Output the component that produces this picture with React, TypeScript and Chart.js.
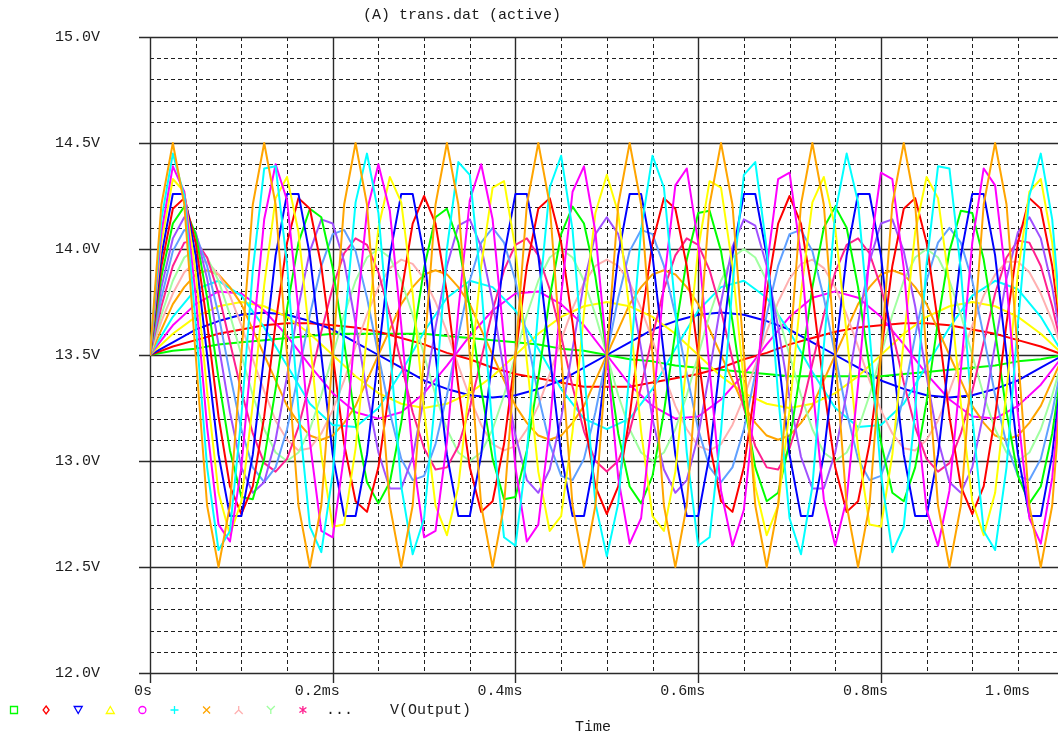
import React, { useEffect, useRef } from 'react';
import { Chart, registerables } from 'chart.js';

Chart.register(...registerables);

// ---- time grid (ms) ----
const tFine = [0,0.0125,0.025,0.0375,0.05,0.0625,0.075,0.0875,0.1,0.1125,0.125,0.1375,0.15,0.1625,0.175,0.1875,0.2,0.2125,0.225,0.2375,0.25,0.2625,0.275,0.2875,0.3,0.3125,0.325,0.3375,0.35,0.3625,0.375,0.3875,0.4,0.4125,0.425,0.4375,0.45,0.4625,0.475,0.4875,0.5,0.5125,0.525,0.5375,0.55,0.5625,0.575,0.5875,0.6,0.6125,0.625,0.6375,0.65,0.6625,0.675,0.6875,0.7,0.7125,0.725,0.7375,0.75,0.7625,0.775,0.7875,0.8,0.8125,0.825,0.8375,0.85,0.8625,0.875,0.8875,0.9,0.9125,0.925,0.9375,0.95,0.9625,0.975,0.9875,1.0];
const tCoarse = tFine.filter((_, i) => i % 2 === 0);

// ---- V(Output) traces (V) ----
const trace01 = [13.5,13.52,13.53,13.55,13.56,13.57,13.58,13.59,13.6,13.6,13.6,13.6,13.6,13.59,13.58,13.57,13.56,13.55,13.53,13.52,13.5,13.48,13.47,13.45,13.44,13.43,13.42,13.41,13.4,13.4,13.4,13.4,13.4,13.41,13.42,13.43,13.44,13.45,13.47,13.48,13.5];
const trace02 = [13.5,13.54,13.57,13.6,13.62,13.64,13.65,13.65,13.64,13.63,13.61,13.58,13.55,13.51,13.48,13.44,13.41,13.39,13.37,13.35,13.35,13.35,13.37,13.39,13.41,13.44,13.48,13.51,13.55,13.58,13.61,13.63,13.64,13.65,13.65,13.64,13.62,13.6,13.57,13.54,13.5];
const trace03 = [13.5,13.56,13.62,13.66,13.69,13.7,13.69,13.66,13.62,13.56,13.5,13.44,13.38,13.34,13.31,13.3,13.31,13.34,13.38,13.44,13.5,13.56,13.62,13.66,13.69,13.7,13.69,13.66,13.62,13.56,13.5,13.44,13.38,13.34,13.31,13.3,13.31,13.34,13.38,13.44,13.5];
const trace04 = [13.5,13.6,13.68,13.73,13.75,13.73,13.68,13.6,13.5,13.4,13.32,13.27,13.25,13.27,13.32,13.4,13.5,13.6,13.68,13.73,13.75,13.73,13.68,13.6,13.5,13.4,13.32,13.27,13.25,13.27,13.32,13.4,13.5,13.6,13.68,13.73,13.75,13.73,13.68,13.6,13.5];
const trace05 = [13.5,13.64,13.74,13.8,13.79,13.71,13.59,13.45,13.32,13.23,13.2,13.23,13.32,13.45,13.59,13.71,13.79,13.8,13.74,13.64,13.5,13.36,13.26,13.2,13.21,13.29,13.41,13.55,13.68,13.77,13.8,13.77,13.68,13.55,13.41,13.29,13.21,13.2,13.26,13.36,13.5];
const trace06 = [13.5,13.68,13.81,13.85,13.78,13.63,13.45,13.27,13.17,13.16,13.25,13.42,13.61,13.77,13.85,13.82,13.71,13.53,13.34,13.2,13.15,13.2,13.34,13.53,13.71,13.82,13.85,13.77,13.61,13.42,13.25,13.16,13.17,13.27,13.45,13.63,13.78,13.85,13.81,13.68,13.5];
const trace07 = [13.5,13.62,13.74,13.82,13.88,13.9,13.88,13.82,13.74,13.62,13.5,13.38,13.26,13.18,13.12,13.1,13.12,13.18,13.26,13.38,
  13.5,13.62,13.74,13.82,13.88,13.9,13.88,13.82,13.74,13.62,13.5,13.38,13.26,13.18,13.12,13.1,13.12,13.18,13.26,13.38,
  13.5,13.62,13.74,13.82,13.88,13.9,13.88,13.82,13.74,13.62,13.5,13.38,13.26,13.18,13.12,13.1,13.12,13.18,13.26,13.38,
  13.5,13.62,13.74,13.82,13.88,13.9,13.88,13.82,13.74,13.62,13.5,13.38,13.26,13.18,13.12,13.1,13.12,13.18,13.26,13.38,13.5];
const trace08 = [13.5,13.66,13.79,13.89,13.94,13.94,13.88,13.78,13.64,13.48,13.33,13.19,13.1,13.05,13.06,13.13,13.24,13.38,13.54,13.69,13.82,13.91,13.95,13.93,13.86,13.75,13.61,13.45,13.3,13.17,13.08,13.05,13.07,13.15,13.26,13.41,13.57,13.72,13.84,13.92,13.95,
  13.92,13.84,13.72,13.57,13.41,13.26,13.15,13.07,13.05,13.08,13.17,13.3,13.45,13.61,13.75,13.86,13.93,13.95,13.91,13.82,13.69,13.54,13.38,13.24,13.13,13.06,13.05,13.1,13.19,13.33,13.48,13.64,13.78,13.88,13.94,13.94,13.89,13.79,13.66,13.5];
const trace09 = [13.5,13.69,13.85,13.96,14,13.96,13.85,13.69,13.5,13.31,13.15,13.04,13,13.04,13.15,13.31,
  13.5,13.69,13.85,13.96,14,13.96,13.85,13.69,13.5,13.31,13.15,13.04,13,13.04,13.15,13.31,
  13.5,13.69,13.85,13.96,14,13.96,13.85,13.69,13.5,13.31,13.15,13.04,13,13.04,13.15,13.31,
  13.5,13.69,13.85,13.96,14,13.96,13.85,13.69,13.5,13.31,13.15,13.04,13,13.04,13.15,13.31,
  13.5,13.69,13.85,13.96,14,13.96,13.85,13.69,13.5,13.31,13.15,13.04,13,13.04,13.15,13.31,13.5];
const trace10 = [13.5,13.73,13.92,14.03,14.04,13.96,13.79,13.56,13.33,13.13,12.99,12.95,13.01,13.16,13.37,13.61,13.82,13.98,14.05,14.02,13.89,13.69,13.46,13.23,13.06,12.96,12.97,13.07,13.25,13.48,13.71,13.9,14.02,14.05,13.97,13.81,13.59,13.35,13.14,13,12.95,
  13,13.14,13.35,13.59,13.81,13.97,14.05,14.02,13.9,13.71,13.48,13.25,13.07,12.97,12.96,13.06,13.23,13.46,13.69,13.89,14.02,14.05,13.98,13.82,13.61,13.37,13.16,13.01,12.95,12.99,13.13,13.33,13.56,13.79,13.96,14.04,14.03,13.92,13.73,13.5];
const trace11 = [13.5,13.77,13.99,14.09,14.07,13.92,13.69,13.41,13.15,12.97,12.9,12.97,13.15,13.41,13.69,13.92,14.07,14.09,13.99,13.77,13.5,13.23,13.01,12.91,12.93,13.08,13.31,13.59,13.85,14.03,14.1,14.03,13.85,13.59,13.31,13.08,12.93,12.91,13.01,13.23,13.5,
  13.77,13.99,14.09,14.07,13.92,13.69,13.41,13.15,12.97,12.9,12.97,13.15,13.41,13.69,13.92,14.07,14.09,13.99,13.77,13.5,13.23,13.01,12.91,12.93,13.08,13.31,13.59,13.85,14.03,14.1,14.03,13.85,13.59,13.31,13.08,12.93,12.91,13.01,13.23,13.5];
const trace12 = [13.5,13.82,14.05,14.15,14.08,13.86,13.55,13.23,12.97,12.85,12.9,13.1,13.4,13.73,13.99,14.14,14.12,13.94,13.65,13.32,13.04,12.87,12.87,13.02,13.3,13.63,13.92,14.11,14.14,14.01,13.75,13.42,13.12,12.91,12.85,12.96,13.2,13.53,13.84,14.07,14.15,
  14.07,13.84,13.53,13.2,12.96,12.85,12.91,13.12,13.42,13.75,14.01,14.14,14.11,13.92,13.63,13.3,13.02,12.87,12.87,13.04,13.32,13.65,13.94,14.12,14.14,13.99,13.73,13.4,13.1,12.9,12.85,12.97,13.23,13.55,13.86,14.08,14.15,14.05,13.82,13.5];
const trace13 = [13.5,13.87,14.12,14.2,14.07,13.77,13.39,13.05,12.83,12.82,13.01,13.34,13.72,14.03,14.19,14.15,13.91,13.56,13.18,12.9,12.8,12.9,13.18,13.56,13.91,14.15,14.19,14.03,13.72,13.34,13.01,12.82,12.83,13.05,13.39,13.77,14.07,14.2,14.12,13.87,13.5,
  13.13,12.88,12.8,12.93,13.23,13.61,13.95,14.17,14.18,13.99,13.66,13.28,12.97,12.81,12.85,13.09,13.44,13.82,14.1,14.2,14.1,13.82,13.44,13.09,12.85,12.81,12.97,13.28,13.66,13.99,14.18,14.17,13.95,13.61,13.23,12.93,12.8,12.88,13.13,13.5];
const trace14 = [13.5,13.92,14.19,14.24,14.03,13.65,13.21,12.88,12.75,12.88,13.21,13.65,14.03,14.24,14.19,13.92,13.5,13.08,12.81,12.76,12.97,13.35,13.79,14.12,14.25,14.12,13.79,13.35,12.97,12.76,12.81,13.08,
  13.5,13.92,14.19,14.24,14.03,13.65,13.21,12.88,12.75,12.88,13.21,13.65,14.03,14.24,14.19,13.92,13.5,13.08,12.81,12.76,12.97,13.35,13.79,14.12,14.25,14.12,13.79,13.35,12.97,12.76,12.81,13.08,
  13.5,13.92,14.19,14.24,14.03,13.65,13.21,12.88,12.75,12.88,13.21,13.65,14.03,14.24,14.19,13.92,13.5];
const trace15 = [13.5,13.97,14.26,14.26,13.97,13.5,13.03,12.74,12.74,13.03,
  13.5,13.97,14.26,14.26,13.97,13.5,13.03,12.74,12.74,13.03,
  13.5,13.97,14.26,14.26,13.97,13.5,13.03,12.74,12.74,13.03,
  13.5,13.97,14.26,14.26,13.97,13.5,13.03,12.74,12.74,13.03,
  13.5,13.97,14.26,14.26,13.97,13.5,13.03,12.74,12.74,13.03,
  13.5,13.97,14.26,14.26,13.97,13.5,13.03,12.74,12.74,13.03,
  13.5,13.97,14.26,14.26,13.97,13.5,13.03,12.74,12.74,13.03,
  13.5,13.97,14.26,14.26,13.97,13.5,13.03,12.74,12.74,13.03,13.5];
const trace16 = [13.5,14.03,14.33,14.27,13.89,13.33,12.85,12.65,12.81,13.27,13.83,14.24,14.34,14.08,13.57,13.03,12.69,12.7,13.06,13.6,14.1,14.34,14.22,13.79,13.24,12.79,12.65,12.88,13.37,13.92,14.29,14.32,14,13.47,12.95,12.67,12.74,13.14,13.7,14.17,14.35,
  14.17,13.7,13.14,12.74,12.67,12.95,13.47,14,14.32,14.29,13.92,13.37,12.88,12.65,12.79,13.24,13.79,14.22,14.34,14.1,13.6,13.06,12.7,12.69,13.03,13.57,14.08,14.34,14.24,13.83,13.27,12.81,12.65,12.85,13.33,13.89,14.27,14.33,14.03,13.5];
const trace17 = [13.5,14.08,14.39,14.27,13.78,13.16,12.7,12.62,12.97,13.57,14.14,14.4,14.23,13.71,13.09,12.67,12.64,13.03,13.64,14.18,14.4,14.18,13.64,13.03,12.64,12.67,13.09,13.71,14.23,14.4,14.14,13.57,12.97,12.62,12.7,13.16,13.78,14.27,14.39,14.08,13.5,
  12.92,12.61,12.73,13.22,13.84,14.3,14.38,14.03,13.43,12.86,12.6,12.77,13.29,13.91,14.33,14.36,13.97,13.36,12.82,12.6,12.82,13.36,13.97,14.36,14.33,13.91,13.29,12.77,12.6,12.86,13.43,14.03,14.38,14.3,13.84,13.22,12.73,12.61,12.92,13.5];
const trace18 = [13.5,14.14,14.45,14.25,13.65,12.97,12.58,12.67,13.21,13.9,14.38,14.39,13.93,13.24,12.69,12.57,12.94,13.61,14.22,14.45,14.17,13.54,12.88,12.56,12.73,13.31,14,14.41,14.35,13.83,13.14,12.64,12.6,13.04,13.72,14.29,14.44,14.09,13.43,12.8,12.55,
  12.8,13.43,14.09,14.44,14.29,13.72,13.04,12.6,12.64,13.14,13.83,14.35,14.41,14,13.31,12.73,12.56,12.88,13.54,14.17,14.45,14.22,13.61,12.94,12.57,12.69,13.24,13.93,14.39,14.38,13.9,13.21,12.67,12.58,12.97,13.65,14.25,14.45,14.14,13.5];
const trace19 = [13.5,14.21,14.5,14.21,13.5,12.79,12.5,12.79, 13.5,14.21,14.5,14.21,13.5,12.79,12.5,12.79,
  13.5,14.21,14.5,14.21,13.5,12.79,12.5,12.79, 13.5,14.21,14.5,14.21,13.5,12.79,12.5,12.79,
  13.5,14.21,14.5,14.21,13.5,12.79,12.5,12.79, 13.5,14.21,14.5,14.21,13.5,12.79,12.5,12.79,
  13.5,14.21,14.5,14.21,13.5,12.79,12.5,12.79, 13.5,14.21,14.5,14.21,13.5,12.79,12.5,12.79,
  13.5,14.21,14.5,14.21,13.5,12.79,12.5,12.79, 13.5,14.21,14.5,14.21,13.5,12.79,12.5,12.79,13.5];

const traceValues = [trace01,trace02,trace03,trace04,trace05,trace06,trace07,trace08,trace09,trace10,trace11,trace12,trace13,trace14,trace15,trace16,trace17,trace18,trace19];
const traceTimes = [tCoarse,tCoarse,tCoarse,tCoarse,tCoarse,tCoarse,tFine,tFine,tFine,tFine,tFine,tFine,tFine,tFine,tFine,tFine,tFine,tFine,tFine];

// PSpice trace colour cycle
const traceColors = ['#00ff00','#ff0000','#0000ff','#ffff00','#ff00ff','#00ffff','#ffa500','#ffb0b0','#a0ffa0','#ff2090','#60a0ff','#a050ff'];
const legendSymbols = ['square','diamond','triDown','triUp','circle','plus','cross','invY','Y','star'];

// ---- axes ----
const xMajorTicks = [0, 0.2, 0.4, 0.6, 0.8, 1.0];
const xTickLabels = ['0s', '0.2ms', '0.4ms', '0.6ms', '0.8ms', '1.0ms'];
const xMinorTicks = [0.05,0.1,0.15,0.25,0.3,0.35,0.45,0.5,0.55,0.65,0.7,0.75,0.85,0.9,0.95,1.05];
const yMajorTicks = [12.0, 12.5, 13.0, 13.5, 14.0, 14.5, 15.0];
const yTickLabels = ['12.0V', '12.5V', '13.0V', '13.5V', '14.0V', '14.5V', '15.0V'];
const yMinorTicks = [12.1,12.2,12.3,12.4,12.6,12.7,12.8,12.9,13.1,13.2,13.3,13.4,13.6,13.7,13.8,13.9,14.1,14.2,14.3,14.4,14.6,14.7,14.8,14.9];

const titleText = '(A) trans.dat (active)';
const yTraceName = 'V(Output)';
const xAxisTitle = 'Time';

const FONT = '15px "Liberation Mono", "DejaVu Sans Mono", monospace';
const TEXT = '#1c1c1c';

function drawSymbol(ctx: CanvasRenderingContext2D, kind: string, cx: number, cy: number, color: string) {
  ctx.save();
  ctx.strokeStyle = color;
  ctx.lineWidth = 1.3;
  ctx.beginPath();
  const r = 3.5;
  switch (kind) {
    case 'square': ctx.rect(cx - r, cy - r, 2 * r, 2 * r); break;
    case 'diamond': ctx.moveTo(cx, cy - 4); ctx.lineTo(cx + 3, cy); ctx.lineTo(cx, cy + 4); ctx.lineTo(cx - 3, cy); ctx.closePath(); break;
    case 'triDown': ctx.moveTo(cx - 4, cy - r); ctx.lineTo(cx + 4, cy - r); ctx.lineTo(cx, cy + r); ctx.closePath(); break;
    case 'triUp': ctx.moveTo(cx - 4, cy + r); ctx.lineTo(cx + 4, cy + r); ctx.lineTo(cx, cy - r); ctx.closePath(); break;
    case 'circle': ctx.arc(cx, cy, r, 0, Math.PI * 2); break;
    case 'plus': ctx.moveTo(cx - 4, cy); ctx.lineTo(cx + 4, cy); ctx.moveTo(cx, cy - 4); ctx.lineTo(cx, cy + 4); break;
    case 'cross': ctx.moveTo(cx - r, cy - r); ctx.lineTo(cx + r, cy + r); ctx.moveTo(cx + r, cy - r); ctx.lineTo(cx - r, cy + r); break;
    case 'invY': ctx.moveTo(cx, cy - 4); ctx.lineTo(cx, cy); ctx.lineTo(cx - 4, cy + 4); ctx.moveTo(cx, cy); ctx.lineTo(cx + 4, cy + 4); break;
    case 'Y': ctx.moveTo(cx - 4, cy - 4); ctx.lineTo(cx, cy); ctx.lineTo(cx + 4, cy - 4); ctx.moveTo(cx, cy); ctx.lineTo(cx, cy + 4); break;
    case 'star': ctx.moveTo(cx, cy - 4); ctx.lineTo(cx, cy + 4); ctx.moveTo(cx - r, cy - 2.5); ctx.lineTo(cx + r, cy + 2.5); ctx.moveTo(cx + r, cy - 2.5); ctx.lineTo(cx - r, cy + 2.5); break;
  }
  ctx.stroke();
  ctx.restore();
}

const decorPlugin = {
  id: 'pspiceDecor',
  beforeDatasetsDraw(chart: any) {
    const { ctx, chartArea } = chart;
    const xs = chart.scales.x;
    const ys = chart.scales.y;
    const line = (x1: number, y1: number, x2: number, y2: number) => {
      ctx.beginPath(); ctx.moveTo(x1, y1); ctx.lineTo(x2, y2); ctx.stroke();
    };
    ctx.save();
    ctx.strokeStyle = '#202020';
    ctx.lineWidth = 1;
    ctx.setLineDash([4, 3]);
    for (const v of yMinorTicks) {
      const y = Math.round(ys.getPixelForValue(v)) + 0.5;
      line(chartArea.left, y, chartArea.right, y);
    }
    for (const v of xMinorTicks) {
      const x = Math.round(xs.getPixelForValue(v)) + 0.5;
      line(x, chartArea.top, x, chartArea.bottom);
    }
    ctx.setLineDash([]);
    ctx.strokeStyle = '#2a2a2a';
    ctx.lineWidth = 1.4;
    for (const v of yMajorTicks) {
      const y = Math.round(ys.getPixelForValue(v)) + 0.5;
      line(chartArea.left - 11, y, chartArea.right, y);
    }
    for (const v of xMajorTicks) {
      const x = Math.round(xs.getPixelForValue(v)) + 0.5;
      line(x, chartArea.top, x, chartArea.bottom + 10);
    }
    ctx.restore();
  },
  afterDraw(chart: any) {
    const { ctx } = chart;
    const xs = chart.scales.x;
    const ys = chart.scales.y;
    ctx.save();
    ctx.font = FONT;
    ctx.fillStyle = TEXT;
    ctx.textBaseline = 'middle';
    // y labels
    ctx.textAlign = 'right';
    yMajorTicks.forEach((v, i) => {
      ctx.fillText(yTickLabels[i], 100, ys.getPixelForValue(v));
    });
    // x labels
    xMajorTicks.forEach((v, i) => {
      const px = xs.getPixelForValue(v);
      const right = i === 0 ? px + 2 : Math.min(px + 7, 1030);
      ctx.fillText(xTickLabels[i], right, 691);
    });
    // title
    ctx.textAlign = 'left';
    ctx.fillText(titleText, 363, 15);
    // legend
    legendSymbols.forEach((k, i) => {
      drawSymbol(ctx, k, 14 + i * 32.1, 710, traceColors[i % traceColors.length]);
    });
    ctx.fillStyle = TEXT;
    ctx.fillText('...', 326, 710);
    ctx.fillText(yTraceName, 390, 710);
    ctx.textAlign = 'center';
    ctx.fillText(xAxisTitle, 593, 727);
    ctx.restore();
  },
};

export default function App() {
  const canvasRef = useRef<HTMLCanvasElement | null>(null);

  useEffect(() => {
    document.body.style.margin = '0';
    const canvas = canvasRef.current;
    if (!canvas) return;
    const n = traceValues.length;
    const datasets = traceValues.map((vals, i) => ({
      label: `${yTraceName} #${i + 1}`,
      data: vals.map((v, j) => ({ x: traceTimes[i][j], y: v })),
      borderColor: traceColors[i % traceColors.length],
      backgroundColor: traceColors[i % traceColors.length],
      borderWidth: 2,
      borderJoinStyle: 'round' as const,
      pointRadius: 0,
      fill: false,
      tension: 0,
      order: n - i,
    }));
    const chart = new Chart(canvas, {
      type: 'line',
      data: { datasets },
      options: {
        animation: false,
        responsive: false,
        devicePixelRatio: 1,
        layout: { padding: { left: 150, right: 5, top: 37, bottom: 65 } },
        plugins: { legend: { display: false }, tooltip: { enabled: false }, title: { display: false } },
        events: [],
        scales: {
          x: { type: 'linear', min: 0, max: 1.1, display: false },
          y: { type: 'linear', min: 12, max: 15, display: false },
        },
      },
      plugins: [decorPlugin],
    });
    return () => chart.destroy();
  }, []);

  return (
    <div style={{ position: 'fixed', left: 0, top: 0, width: 1058, height: 738, overflow: 'hidden', background: '#ffffff' }}>
      <canvas ref={canvasRef} width={1160} height={738} style={{ display: 'block', width: 1160, height: 738 }} />
    </div>
  );
}
